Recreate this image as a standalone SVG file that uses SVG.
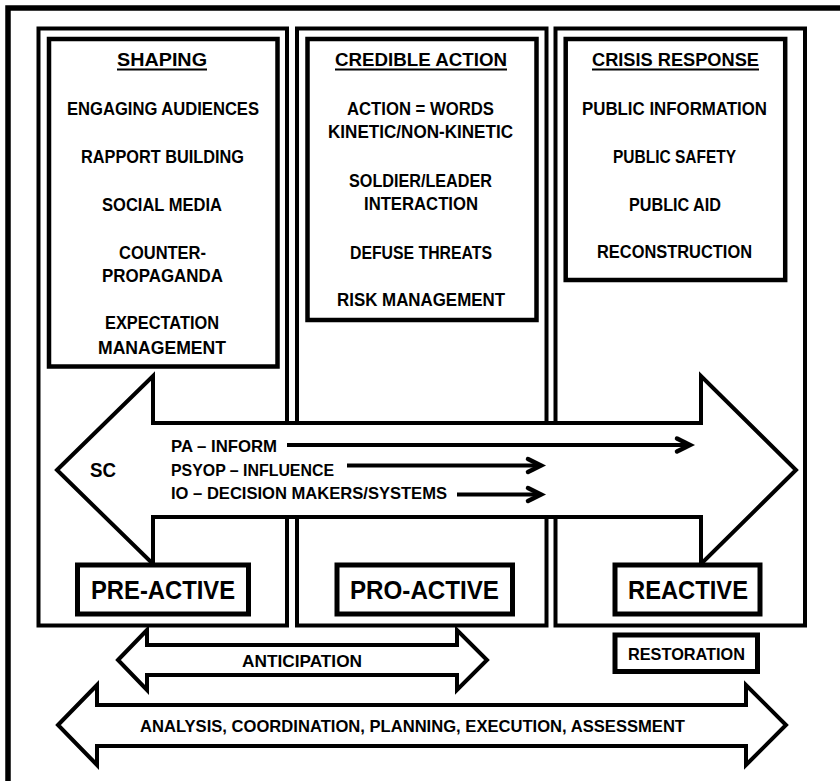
<svg xmlns="http://www.w3.org/2000/svg" width="840" height="781" viewBox="0 0 840 781">
<style>
  text { font-family: "Liberation Sans", Arial, sans-serif; font-weight: bold; fill: #000; }
  .t { font-size: 17.5px; }
  .big { font-size: 25px; }
  .sm { font-size: 16.5px; }
  .sc { font-size: 20px; }
  .col { fill: #fff; stroke: #000; stroke-width: 4; }
  .box { fill: #fff; stroke: #000; stroke-width: 4.5; }
  .lbl { fill: #fff; stroke: #000; stroke-width: 5; }
  .arr { fill: #fff; stroke: #000; stroke-width: 4; stroke-linejoin: miter; }
  .ul { stroke: #000; stroke-width: 2; }
  .conn { stroke: #000; stroke-width: 4; fill: none; }
</style>
<defs>
  <marker id="chev" markerUnits="userSpaceOnUse" markerWidth="24" markerHeight="24" viewBox="-20 -12 24 24" refX="0" refY="0" orient="auto" overflow="visible">
    <path d="M-13,-6.5 L0,0 L-13,6.5" fill="none" stroke="#000" stroke-width="4.5" stroke-linejoin="miter" stroke-linecap="round"/>
  </marker>
</defs>
<rect width="840" height="781" fill="#fff"/>
<g id="frame">
  <path d="M8,781 V8 H840" fill="none" stroke="#000" stroke-width="5.5"/>
</g>
<g id="col-shaping"><rect class="col" x="38.5" y="28.5" width="248.5" height="597"/></g>
<g id="col-credible"><rect class="col" x="297" y="28.5" width="249.5" height="597"/></g>
<g id="col-crisis"><rect class="col" x="555.5" y="28.5" width="249.5" height="597"/></g>

<g id="box-shaping">
  <rect class="box" x="49" y="39" width="228.5" height="327.5"/>
  <text class="t" x="117" y="66" textLength="90" lengthAdjust="spacingAndGlyphs">SHAPING</text>
  <line class="ul" x1="117" y1="69.5" x2="207" y2="69.5"/>
  <text class="t" x="67" y="115" textLength="192" lengthAdjust="spacingAndGlyphs">ENGAGING AUDIENCES</text>
  <text class="t" x="81" y="163" textLength="163" lengthAdjust="spacingAndGlyphs">RAPPORT BUILDING</text>
  <text class="t" x="102" y="210.5" textLength="120" lengthAdjust="spacingAndGlyphs">SOCIAL MEDIA</text>
  <text class="t" x="119" y="259" textLength="87" lengthAdjust="spacingAndGlyphs">COUNTER-</text>
  <text class="t" x="102" y="282" textLength="121" lengthAdjust="spacingAndGlyphs">PROPAGANDA</text>
  <text class="t" x="105" y="329" textLength="114" lengthAdjust="spacingAndGlyphs">EXPECTATION</text>
  <text class="t" x="98" y="354" textLength="128" lengthAdjust="spacingAndGlyphs">MANAGEMENT</text>
</g>

<g id="box-credible">
  <rect class="box" x="307.5" y="39" width="229" height="281"/>
  <text class="t" x="335" y="66" textLength="172" lengthAdjust="spacingAndGlyphs">CREDIBLE ACTION</text>
  <line class="ul" x1="335" y1="69.5" x2="507" y2="69.5"/>
  <text class="t" x="347" y="115" textLength="147" lengthAdjust="spacingAndGlyphs">ACTION = WORDS</text>
  <text class="t" x="328" y="138" textLength="185" lengthAdjust="spacingAndGlyphs">KINETIC/NON-KINETIC</text>
  <text class="t" x="349" y="187" textLength="143" lengthAdjust="spacingAndGlyphs">SOLDIER/LEADER</text>
  <text class="t" x="364" y="210" textLength="114" lengthAdjust="spacingAndGlyphs">INTERACTION</text>
  <text class="t" x="350" y="259" textLength="142" lengthAdjust="spacingAndGlyphs">DEFUSE THREATS</text>
  <text class="t" x="337" y="306" textLength="168" lengthAdjust="spacingAndGlyphs">RISK MANAGEMENT</text>
</g>

<g id="box-crisis">
  <rect class="box" x="565.7" y="39" width="219.5" height="241"/>
  <text class="t" x="592" y="66" textLength="167" lengthAdjust="spacingAndGlyphs">CRISIS RESPONSE</text>
  <line class="ul" x1="592" y1="69.5" x2="759" y2="69.5"/>
  <text class="t" x="582" y="115" textLength="185" lengthAdjust="spacingAndGlyphs">PUBLIC INFORMATION</text>
  <text class="t" x="613" y="163" textLength="123" lengthAdjust="spacingAndGlyphs">PUBLIC SAFETY</text>
  <text class="t" x="629" y="211" textLength="92" lengthAdjust="spacingAndGlyphs">PUBLIC AID</text>
  <text class="t" x="597" y="258" textLength="155" lengthAdjust="spacingAndGlyphs">RECONSTRUCTION</text>
</g>

<g id="sc-arrow">
  <polygon class="arr" points="57,470 153,376 153,423 701,423 701,376 796,470 701,564 701,517 153,517 153,564"/>
  <text class="sc" x="90" y="477" textLength="26" lengthAdjust="spacingAndGlyphs">SC</text>
  <text class="sm" x="171" y="451.5" textLength="106" lengthAdjust="spacingAndGlyphs">PA – INFORM</text>
  <text class="sm" x="171" y="475.5" textLength="163" lengthAdjust="spacingAndGlyphs">PSYOP – INFLUENCE</text>
  <text class="sm" x="171" y="499" textLength="276" lengthAdjust="spacingAndGlyphs">IO – DECISION MAKERS/SYSTEMS</text>
</g>

<g id="connectors">
  <line class="conn" x1="287" y1="445" x2="690" y2="445" marker-end="url(#chev)"/>
  <line class="conn" x1="347" y1="465.5" x2="541" y2="465.5" marker-end="url(#chev)"/>
  <line class="conn" x1="457" y1="494.5" x2="541" y2="494.5" marker-end="url(#chev)"/>
</g>

<g id="pre-active">
  <rect class="lbl" x="77.5" y="565" width="171" height="49"/>
  <text class="big" x="91" y="599" textLength="144" lengthAdjust="spacingAndGlyphs">PRE-ACTIVE</text>
</g>
<g id="pro-active">
  <rect class="lbl" x="337" y="565" width="175.5" height="49"/>
  <text class="big" x="350" y="599" textLength="149" lengthAdjust="spacingAndGlyphs">PRO-ACTIVE</text>
</g>
<g id="reactive">
  <rect class="lbl" x="615" y="565" width="145" height="49"/>
  <text class="big" x="628" y="599" textLength="120" lengthAdjust="spacingAndGlyphs">REACTIVE</text>
</g>
<g id="restoration">
  <rect class="lbl" x="615" y="635" width="142.5" height="36.5"/>
  <text class="sm" x="628" y="660" textLength="117" lengthAdjust="spacingAndGlyphs">RESTORATION</text>
</g>
<g id="anticipation">
  <polygon class="arr" points="118,660 147,630 147,645 457,645 457,630 487,660 457,690 457,675 147,675 147,690"/>
  <text class="sm" x="242" y="667" textLength="120" lengthAdjust="spacingAndGlyphs">ANTICIPATION</text>
</g>
<g id="process">
  <polygon class="arr" points="58,725 97,685 97,705 746,705 746,685 786,725 746,765 746,746 97,746 97,765"/>
  <text class="sm" x="140" y="732" textLength="545" lengthAdjust="spacingAndGlyphs">ANALYSIS, COORDINATION, PLANNING, EXECUTION, ASSESSMENT</text>
</g>
</svg>
